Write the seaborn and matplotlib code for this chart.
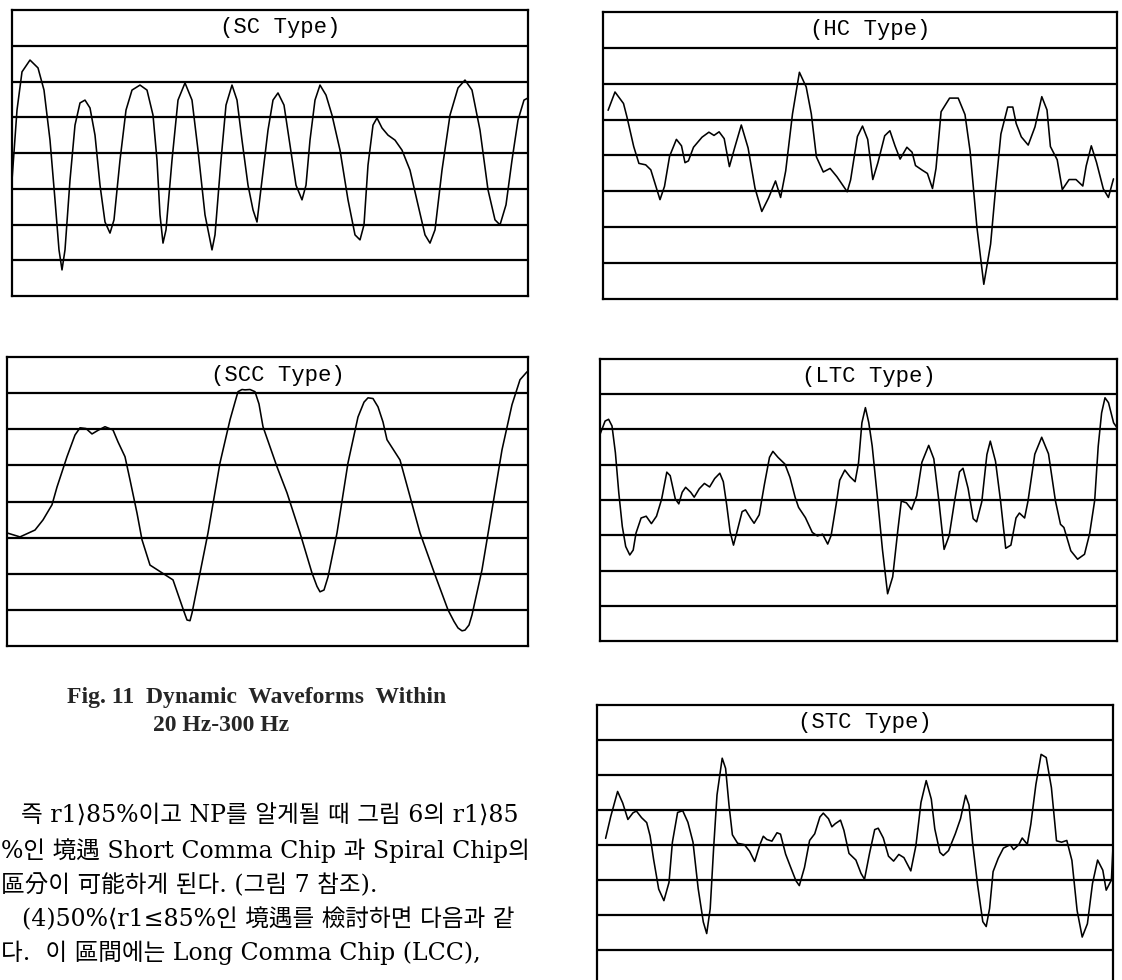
import pandas as pd
import matplotlib
matplotlib.use("Agg")
import matplotlib.pyplot as plt
import seaborn as sns

sns.set_theme(style="white")
plt.rcParams['font.family'] = ['DejaVu Serif', 'DejaVu Sans', 'Noto Sans CJK KR']

# waveform traces: time (chart sweep units) and amplitude (grid divisions above bottom line)
sc_t = [0, 5, 10, 18, 26, 32, 38, 43, 47, 50, 53, 58, 63, 68, 73, 78, 83, 88, 93, 98,
        102, 108, 114, 120, 128, 135, 141, 145, 148, 151, 154, 160, 166, 173, 180, 186, 193, 200, 203, 209,
        214, 220, 225, 230, 236, 241, 245, 250, 256, 261, 266, 272, 278, 284, 290, 294, 298, 303, 308, 314,
        320, 328, 336, 343, 348, 352, 356, 361, 365, 370, 376, 383, 390, 398, 406, 413, 418, 423, 430, 438,
        446, 453, 460, 468, 476, 483, 488, 494, 500, 506, 512, 516]
sc_u = [3.24, 5.20, 6.27, 6.60, 6.38, 5.76, 4.36, 2.69, 1.29, 0.73, 1.29, 3.24, 4.78, 5.40, 5.48, 5.26, 4.50, 3.10, 2.07, 1.76,
        2.13, 3.80, 5.20, 5.76, 5.90, 5.76, 5.06, 3.80, 2.27, 1.48, 1.85, 3.80, 5.48, 5.96, 5.48, 4.08, 2.27, 1.29, 1.71, 3.80,
        5.34, 5.90, 5.48, 4.36, 3.10, 2.41, 2.07, 3.24, 4.64, 5.48, 5.68, 5.34, 4.22, 3.10, 2.69, 3.10, 4.36, 5.48, 5.90, 5.62,
        5.06, 4.08, 2.69, 1.71, 1.57, 1.99, 3.66, 4.78, 4.98, 4.70, 4.50, 4.36, 4.08, 3.52, 2.55, 1.71, 1.48, 1.85, 3.52, 5.06,
        5.82, 6.04, 5.76, 4.64, 2.97, 2.13, 1.99, 2.55, 3.80, 4.92, 5.48, 5.54]

hc_t = [5.1, 12.0, 20.5, 23.9, 30.7, 35.9, 42.7, 47.8, 52.9, 57.0, 61.5, 66.6, 73.4, 78.5, 82.0, 85.4, 90.5, 99.0, 105.9, 111.0,
        116.1, 121.2, 126.4, 131.5, 138.3, 145.1, 152.0, 158.8, 165.6, 172.5, 177.6, 182.7, 189.5, 196.4, 203.2, 208.3, 213.4, 220.3, 227.1, 233.9,
        244.2, 247.6, 254.4, 259.5, 264.7, 269.8, 274.9, 281.7, 286.9, 292.0, 297.1, 303.9, 309.1, 312.5, 319.3, 324.4, 329.5, 333.0, 338.1, 346.6,
        355.2, 362.0, 367.1, 374.0, 380.8, 387.6, 392.7, 397.9, 404.7, 409.8, 413.2, 418.3, 425.2, 432.0, 438.8, 444.0, 447.4, 454.2, 459.3, 466.1,
        473.0, 479.8, 483.2, 488.3, 493.5, 500.3, 505.4, 510.5]
hc_u = [5.26, 5.77, 5.45, 5.08, 4.25, 3.78, 3.74, 3.60, 3.14, 2.77, 3.14, 3.98, 4.45, 4.27, 3.80, 3.85, 4.23, 4.51, 4.65, 4.56,
        4.66, 4.47, 3.69, 4.20, 4.85, 4.21, 3.09, 2.44, 2.82, 3.29, 2.83, 3.57, 5.16, 6.32, 5.91, 5.16, 3.96, 3.54, 3.64, 3.41,
        2.99, 3.32, 4.53, 4.82, 4.45, 3.33, 3.80, 4.55, 4.69, 4.27, 3.90, 4.23, 4.09, 3.72, 3.59, 3.50, 3.08, 3.64, 5.22, 5.60,
        5.60, 5.14, 4.12, 1.98, 0.41, 1.53, 3.11, 4.60, 5.35, 5.35, 4.89, 4.52, 4.29, 4.80, 5.64, 5.27, 4.25, 3.88, 3.05, 3.33,
        3.33, 3.15, 3.71, 4.27, 3.81, 3.07, 2.83, 3.35]

scc_t = [0, 13, 28, 36, 45, 50, 60, 68, 73, 79, 85, 91, 98, 106, 111, 118, 123, 130, 135, 143, 166, 173, 177, 180,
         183, 185, 193, 201, 213, 223, 228, 231, 235, 238, 243, 248, 252, 256, 270, 280, 293, 305, 310, 313, 317, 321,
         330, 341, 351, 357, 361, 366, 371, 376, 380, 393, 413, 428, 441, 447, 451, 455, 458, 462, 465, 475, 485, 495,
         505, 513, 520]
scc_u = [3.13, 3.02, 3.21, 3.49, 3.91, 4.40, 5.24, 5.84, 6.04, 6.02, 5.87, 5.97, 6.07, 5.98, 5.65, 5.24, 4.60, 3.68, 2.94, 2.24,
         1.83, 1.27, 0.95, 0.72, 0.70, 0.91, 2.02, 3.13, 5.07, 6.26, 6.75, 7.04, 7.10, 7.09, 7.10, 7.04, 6.70, 6.07, 4.96, 4.24,
         3.13, 2.02, 1.65, 1.50, 1.55, 1.91, 3.13, 5.07, 6.34, 6.75, 6.87, 6.85, 6.62, 6.20, 5.71, 5.15, 3.13, 1.97, 1.00, 0.68,
         0.50, 0.42, 0.44, 0.58, 0.86, 2.11, 3.77, 5.43, 6.68, 7.37, 7.59]

ltc_t = [0, 5.1, 8.6, 12.0, 15.4, 18.8, 22.3, 25.7, 29.8, 33.2, 36.0, 41.1, 46.2, 51.4, 56.5, 61.6, 66.8, 70.2, 75.3, 78.8,
         82.2, 85.6, 90.7, 94.2, 99.3, 104.4, 109.6, 114.7, 119.8, 123.3, 126.7, 130.1, 133.5, 137.0, 142.1, 145.5, 150.7, 154.1, 159.2, 164.4,
         169.5, 172.9, 178.0, 184.9, 190.0, 195.2, 198.6, 205.4, 212.3, 217.4, 222.6, 227.7, 231.1, 236.3, 239.7, 244.8, 250.0, 255.1, 258.5, 261.9,
         265.4, 268.8, 272.2, 277.3, 282.5, 287.6, 292.7, 297.9, 301.3, 306.4, 311.6, 316.7, 321.9, 328.7, 333.8, 339.0, 344.1, 349.2, 354.4, 359.5,
         363.0, 368.1, 373.2, 376.6, 381.8, 386.9, 390.3, 395.5, 400.6, 405.7, 410.9, 416.0, 419.4, 424.6, 428.0, 434.8, 441.7, 448.5, 455.4, 460.5,
         463.9, 470.8, 477.6, 484.5, 489.6, 494.7, 498.2, 501.6, 505.0, 508.5, 513.6, 517.0]
ltc_u = [5.86, 6.24, 6.29, 6.10, 5.34, 4.20, 3.25, 2.68, 2.44, 2.58, 3.06, 3.49, 3.54, 3.33, 3.54, 4.02, 4.79, 4.69, 4.03, 3.89,
         4.22, 4.36, 4.22, 4.08, 4.32, 4.47, 4.37, 4.61, 4.76, 4.52, 3.86, 3.10, 2.72, 3.10, 3.67, 3.72, 3.48, 3.34, 3.58, 4.44,
         5.21, 5.38, 5.21, 5.02, 4.64, 4.07, 3.79, 3.50, 3.08, 2.98, 3.03, 2.75, 2.99, 3.90, 4.56, 4.85, 4.66, 4.52, 5.05, 6.19,
         6.62, 6.19, 5.53, 4.10, 2.58, 1.34, 1.82, 3.16, 3.97, 3.92, 3.73, 4.12, 5.07, 5.55, 5.17, 3.94, 2.60, 2.99, 3.94, 4.80,
         4.90, 4.33, 3.47, 3.38, 3.95, 5.29, 5.67, 5.10, 3.96, 2.63, 2.72, 3.49, 3.63, 3.49, 3.97, 5.30, 5.78, 5.31, 3.98, 3.31,
         3.22, 2.56, 2.32, 2.46, 3.04, 3.99, 5.52, 6.47, 6.90, 6.76, 6.19, 6.05]

stc_t = [8.6, 13.7, 20.6, 25.7, 30.9, 36.0, 39.4, 44.6, 49.7, 53.1, 56.6, 61.7, 66.9, 72.0, 75.4, 80.6, 85.7, 90.9, 96.0, 101.2,
         106.3, 109.7, 113.2, 116.6, 120.0, 125.2, 128.6, 132.0, 135.4, 140.6, 147.4, 152.6, 157.7, 162.9, 166.3, 169.7, 174.9, 180.0, 183.5, 188.6,
         193.7, 198.9, 202.3, 207.5, 212.6, 217.7, 222.9, 226.3, 231.5, 234.9, 238.3, 243.5, 246.9, 252.0, 258.9, 264.0, 267.5, 272.6, 277.7, 281.2,
         286.3, 291.5, 296.6, 301.8, 306.9, 313.8, 318.9, 324.0, 329.2, 334.3, 337.8, 342.9, 346.3, 351.5, 358.3, 363.5, 368.6, 372.0, 375.5, 380.6,
         385.8, 389.2, 392.6, 396.1, 401.2, 406.4, 413.2, 416.6, 421.8, 425.2, 430.3, 433.8, 438.9, 444.1, 449.2, 454.4, 459.5, 464.6, 469.8, 474.9,
         480.1, 485.2, 490.4, 495.5, 500.6, 505.8, 509.2, 514.4, 516.0]
stc_u = [4.19, 4.81, 5.53, 5.20, 4.73, 4.92, 4.97, 4.78, 4.64, 4.26, 3.59, 2.74, 2.41, 2.93, 4.08, 4.93, 4.98, 4.65, 4.08, 2.75,
         1.80, 1.47, 2.18, 3.90, 5.43, 6.48, 6.19, 5.14, 4.29, 4.05, 4.01, 3.82, 3.53, 4.01, 4.25, 4.16, 4.11, 4.35, 4.31, 3.74,
         3.36, 2.98, 2.84, 3.36, 4.13, 4.32, 4.80, 4.91, 4.75, 4.52, 4.61, 4.71, 4.42, 3.76, 3.57, 3.19, 3.02, 3.77, 4.44, 4.48,
         4.20, 3.68, 3.54, 3.73, 3.64, 3.26, 3.98, 5.22, 5.84, 5.31, 4.46, 3.79, 3.70, 3.84, 4.32, 4.75, 5.42, 5.14, 4.09, 2.86,
         1.81, 1.67, 2.19, 3.24, 3.62, 3.91, 4.01, 3.87, 4.01, 4.20, 4.02, 4.59, 5.73, 6.59, 6.50, 5.64, 4.12, 4.08, 4.13, 3.56,
         2.13, 1.37, 1.75, 2.90, 3.57, 3.28, 2.71, 3.00, 3.95]

titles = ["(SC Type)", "(HC Type)", "(SCC Type)", "(LTC Type)", "(STC Type)"]
caption = ["Fig. 11  Dynamic  Waveforms  Within", "20 Hz-300 Hz"]
body = ["즉 r1⟩85%이고 NP를 알게될 때 그림 6의 r1⟩85",
        "%인 境遇 Short Comma Chip 과 Spiral Chip의",
        "區分이 可能하게 된다. (그림 7 참조).",
        "(4)50%⟨r1≤85%인 境遇를 檢討하면 다음과 같",
        "다.  이 區間에는 Long Comma Chip (LCC),"]

W, H = 1122, 980
fig = plt.figure(figsize=(W / 100, H / 100), dpi=100)
fig.patch.set_facecolor("white")

def px_box(l, t, r, b):
    return [l / W, 1 - b / H, (r - l) / W, (b - t) / H]

# pixel frames of the five chart boxes (left, top, right, bottom)
frames = [(12, 10, 528, 296), (603, 12, 1117, 299), (7, 357, 528, 646),
          (600, 359, 1117, 641), (597, 705, 1113, 985)]
traces = [(sc_t, sc_u), (hc_t, hc_u), (scc_t, scc_u), (ltc_t, ltc_u), (stc_t, stc_u)]

for title, (t, u), (l, top, r, b) in zip(titles, traces, frames):
    ax = fig.add_axes(px_box(l, top, r, b))
    df = pd.DataFrame({"t": t, "u": u})
    sns.lineplot(data=df, x="t", y="u", ax=ax, color="black", linewidth=1.15,
                 sort=False, estimator=None)
    ax.set_xlim(0, r - l)
    ax.set_ylim(0, 8)
    for k in range(1, 8):
        ax.axhline(k, color="black", linewidth=1.6, zorder=1)
    ax.set_xticks([])
    ax.set_yticks([])
    ax.set_xlabel("")
    ax.set_ylabel("")
    for sp in ax.spines.values():
        sp.set_visible(True)
        sp.set_color("black")
        sp.set_linewidth(1.6)
    ax.text(0.52, 7.5 / 8, title, transform=ax.transAxes, ha="center", va="center",
            family="Liberation Mono", fontsize=16, color="black")

# figure caption
fig.text(67 / W, 1 - 697 / H, caption[0], ha="left", va="center",
         family="Liberation Serif", fontweight="bold", fontsize=17)
fig.text(153 / W, 1 - 725 / H, caption[1], ha="left", va="center",
         family="Liberation Serif", fontweight="bold", fontsize=17)

# body text, left column of the page
body_x = [21, 1, 1, 22, 1]
body_y = [816, 851, 885, 919, 953]
for line, x, y in zip(body, body_x, body_y):
    fig.text(x / W, 1 - y / H, line, ha="left", va="center", fontsize=17,
             family=["DejaVu Serif", "DejaVu Sans", "Noto Sans CJK KR"], color="black")

fig.savefig("out.png", dpi=100)
